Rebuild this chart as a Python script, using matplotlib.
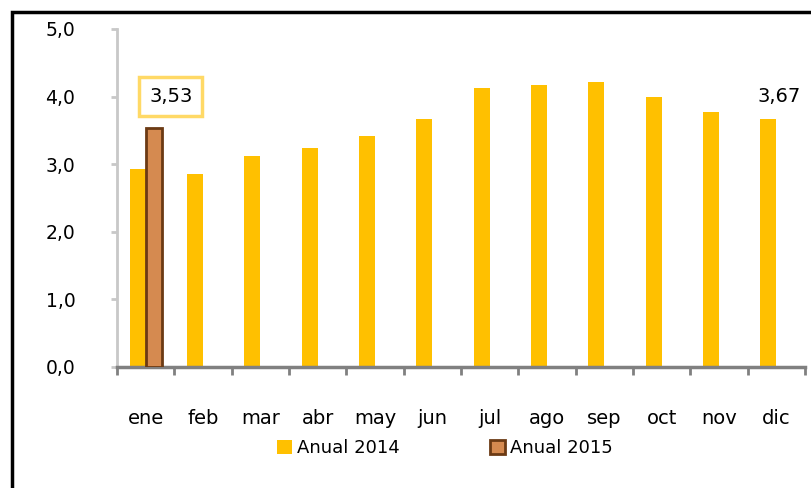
import matplotlib.pyplot as plt
import matplotlib.patches as mpatches
import numpy as np

meses = ["ene", "feb", "mar", "abr", "may", "jun", "jul", "ago", "sep", "oct", "nov", "dic"]
anual_2014 = [2.93, 2.86, 3.12, 3.24, 3.42, 3.67, 4.13, 4.17, 4.22, 3.99, 3.77, 3.67]
anual_2015 = [3.53]

amarillo = "#FFC000"
cobre = "#D58A50"

fig = plt.figure(figsize=(8.12, 4.88), dpi=100)
ax = fig.add_axes([117/812, 1 - 367/488, (805 - 117)/812, (367 - 29)/488])

x = np.arange(len(meses))
w = 0.28
ax.bar(x - w/2, anual_2014, width=w, color=amarillo, label="Anual 2014", zorder=2)
x15 = np.arange(len(anual_2015))
ax.bar(x15 + w/2, anual_2015, width=w, color=cobre, edgecolor="#6B3A14",
       linewidth=2, label="Anual 2015", zorder=3)

ax.set_xlim(-0.5, len(meses) - 0.5)
ax.set_ylim(0, 5)
yt = np.arange(0, 5.1, 1.0)
ax.set_yticks(yt)
ax.set_yticklabels([f"{v:.1f}".replace(".", ",") for v in yt], fontsize=13.5)
ax.set_xticks(np.arange(-0.5, len(meses), 1.0), minor=False)
ax.set_xticklabels([])
ax.set_xticks(x, minor=True)
ax.set_xticklabels(meses, minor=True, fontsize=14)
ax.tick_params(axis="x", which="minor", length=0, pad=30)
ax.tick_params(axis="x", which="major", length=6, color="#808080", width=2)
ax.tick_params(axis="y", length=4, color="#C8C8C8", width=2, pad=26)

for s in ["top", "right"]:
    ax.spines[s].set_visible(False)
ax.spines["left"].set_color("#C8C8C8")
ax.spines["left"].set_linewidth(2)
ax.spines["bottom"].set_color("#808080")
ax.spines["bottom"].set_linewidth(2.5)

ax.text(x15[0] + w/2 + 0.3, 4.0, "3,53", fontsize=14, ha="center",
        va="center", bbox=dict(boxstyle="square,pad=0.5", fc="white",
                               ec="#FFD966", lw=2.5))
ax.text(x[-1] + 0.05, 4.0, "3,67", fontsize=14, ha="center", va="center")

fig.legend(loc="center", bbox_to_anchor=(445/812, 1 - 448/488), ncol=2,
           frameon=False, fontsize=13, handlelength=0.8, handleheight=0.8,
           handletextpad=0.3, columnspacing=5)

fig.add_artist(mpatches.Rectangle((12/812, -0.1), 1.0, 1 - 12/488 + 0.1,
                                  transform=fig.transFigure, fill=False,
                                  ec="black", lw=2.5))

fig.savefig("out.png", dpi=100)
